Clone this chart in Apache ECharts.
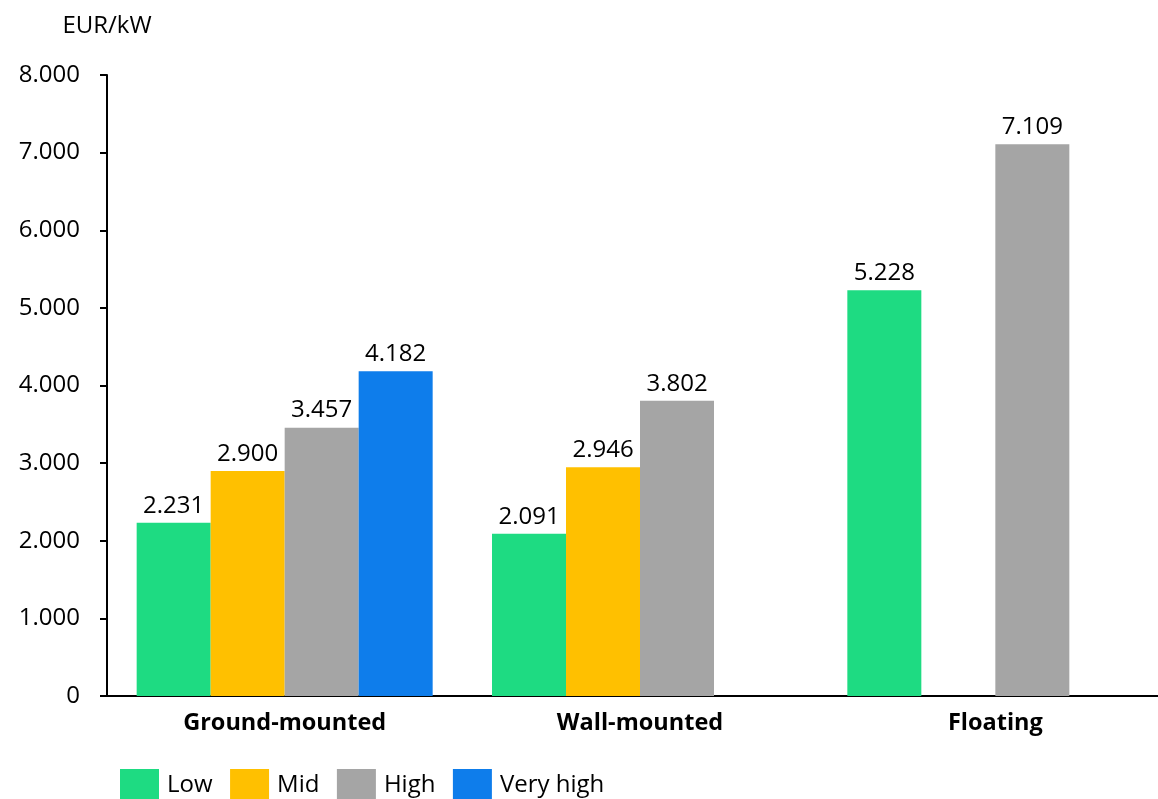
<!DOCTYPE html>
<html>
<head>
<meta charset="utf-8">
<script src="https://cdn.jsdelivr.net/npm/echarts@6/dist/echarts.min.js"></script>
<style>
html,body{margin:0;padding:0;background:#fff;overflow:hidden;}
#chart{width:1158px;height:799px;}
</style>
</head>
<body>
<div id="chart"></div>
<script>
const categories = ['Ground-mounted', 'Wall-mounted', 'Floating'];
const seriesNames = ['Low', 'Mid', 'High', 'Very high'];
const lowValues = [2231, 2091, 5228];
const midValues = [2900, 2946, null];
const highValues = [3457, 3802, 7109];
const veryHighValues = [4182, null, null];
const colors = ['#1EDB82', '#FFC000', '#A5A5A5', '#0E7DEB'];
const yTicks = [0, 1000, 2000, 3000, 4000, 5000, 6000, 7000, 8000];

const FONT = '"Open Sans", "Noto Sans", sans-serif';
function fmt(v) {
  return String(v).replace(/\B(?=(\d{3})+(?!\d))/g, '.');
}
const allValues = [lowValues, midValues, highValues, veryHighValues];

const chart = echarts.init(document.getElementById('chart'), null, {renderer: 'canvas'});
chart.setOption({
  animation: false,
  color: colors,
  textStyle: {fontFamily: FONT},
  grid: {left: 107, width: 1066, top: 75, bottom: 103, containLabel: false, outerBoundsMode: 'none'},
  legend: {
    data: seriesNames,
    left: 120, top: 769, padding: 0,
    itemWidth: 39, itemHeight: 32, itemGap: 17.5,
    icon: 'rect',
    textStyle: {fontFamily: FONT, fontSize: 24, color: '#000', padding: [0, 0, 0, 3]}
  },
  xAxis: {
    type: 'category',
    data: categories,
    axisLine: {lineStyle: {color: '#000', width: 2}},
    axisTick: {show: false},
    axisLabel: {fontFamily: FONT, fontSize: 23.5, fontWeight: 'bold', color: '#000', margin: 15}
  },
  yAxis: {
    type: 'value',
    min: yTicks[0], max: yTicks[yTicks.length - 1], interval: 1000,
    name: 'EUR/kW',
    nameLocation: 'end',
    nameGap: 37,
    nameTextStyle: {fontFamily: FONT, fontSize: 24, color: '#000', align: 'center'},
    axisLine: {show: true, lineStyle: {color: '#000', width: 2}},
    axisTick: {show: true, length: 7, lineStyle: {color: '#000', width: 2}},
    splitLine: {show: false},
    axisLabel: {fontFamily: FONT, fontSize: 24, color: '#000', margin: 27, formatter: v => fmt(v)}
  },
  series: seriesNames.map((name, i) => ({
    name: name,
    type: 'bar',
    data: allValues[i],
    barWidth: 74,
    barGap: '0%',
    itemStyle: {color: colors[i]},
    label: {
      show: true, position: 'top', distance: 5,
      fontFamily: FONT, fontSize: 24, color: '#000',
      formatter: p => fmt(p.value)
    }
  }))
});
</script>
</body>
</html>
